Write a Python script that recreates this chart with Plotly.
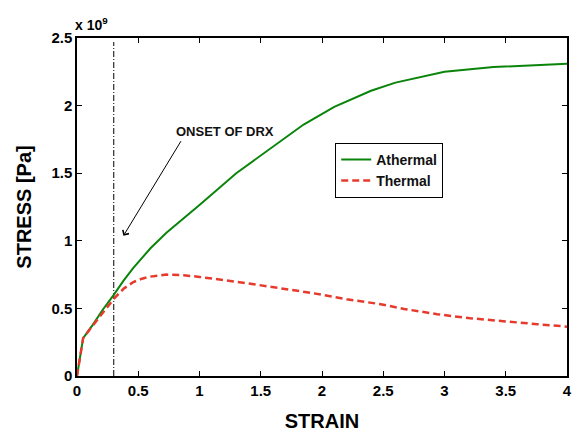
import plotly.graph_objects as go

# Data (stress in units of 1e9 Pa)
athermal_strain = [0, 0.05, 0.13, 0.21, 0.30, 0.38, 0.46, 0.60, 0.73, 0.87, 1.00, 1.30, 1.60, 1.85,
                   2.10, 2.40, 2.60, 3.00, 3.40, 3.70, 4.00]
athermal_stress = [0, 0.28, 0.38, 0.49, 0.60, 0.705, 0.80, 0.945, 1.06, 1.165, 1.265, 1.50, 1.70, 1.86,
                   1.99, 2.11, 2.17, 2.25, 2.285, 2.298, 2.31]

thermal_strain = [0, 0.05, 0.13, 0.21, 0.30, 0.38, 0.46, 0.53, 0.60, 0.73, 0.87, 1.00, 1.12, 1.39,
                  1.66, 1.93, 2.20, 2.48, 2.67, 2.94, 3.21, 3.49, 3.76, 4.00]
thermal_stress = [0, 0.28, 0.375, 0.47, 0.57, 0.645, 0.695, 0.72, 0.735, 0.75, 0.745, 0.733, 0.72, 0.686,
                  0.649, 0.612, 0.568, 0.531, 0.496, 0.457, 0.427, 0.402, 0.383, 0.365]

onset_strain = [0.3, 0.3]
onset_stress = [0, 2.47]

x_ticks = [0, 0.5, 1, 1.5, 2, 2.5, 3, 3.5, 4]
x_ticktext = ["0", "0.5", "1", "1.5", "2", "2.5", "3", "3.5", "4"]
y_ticks = [0, 0.5, 1, 1.5, 2, 2.5]
y_ticktext = ["0", "0.5", "1", "1.5", "2", "2.5"]

FONT = "Liberation Sans, Arial, Helvetica, sans-serif"

fig = go.Figure()
fig.add_trace(go.Scatter(x=onset_strain, y=onset_stress, mode="lines",
                         line=dict(color="black", width=1, dash="6px,2px,1px,2px"),
                         showlegend=False, hoverinfo="skip"))
fig.add_trace(go.Scatter(x=athermal_strain, y=athermal_stress, mode="lines", name="Athermal",
                         line=dict(color="#0a840a", width=2)))
fig.add_trace(go.Scatter(x=thermal_strain, y=thermal_stress, mode="lines", name="Thermal",
                         line=dict(color="#e63a2c", width=2.5, dash="7px,4px")))

axis_common = dict(showline=True, linecolor="black", linewidth=1.5, mirror="ticks",
                   ticks="inside", ticklen=5, tickcolor="black", tickwidth=1,
                   showgrid=False, zeroline=False, automargin=False,
                   tickfont=dict(family=FONT, size=15, color="black", weight="bold"))

fig.update_xaxes(range=[0, 4], tickvals=x_ticks, ticktext=x_ticktext,
                 title=dict(text="STRAIN", font=dict(family=FONT, size=20, color="black", weight="bold"),
                            standoff=16),
                 **axis_common)
fig.update_yaxes(range=[0, 2.5], tickvals=y_ticks, ticktext=y_ticktext,
                 title=dict(text="STRESS [Pa]", font=dict(family=FONT, size=20, color="black", weight="bold"),
                            standoff=14),
                 **axis_common)

fig.add_annotation(x=0.379, y=1.037, ax=0.856, ay=1.748, xref="x", yref="y", axref="x", ayref="y",
                   showarrow=True, arrowhead=4, arrowsize=1.4, arrowwidth=1, arrowcolor="black", text="")
fig.add_annotation(x=1.21, y=1.807, xref="x", yref="y", text="ONSET OF DRX", showarrow=False,
                   font=dict(family=FONT, size=13, color="#111111", weight="bold"))
fig.add_annotation(x=-0.008, y=1.04, xref="paper", yref="paper", xanchor="left", yanchor="middle",
                   text="x 10<sup>9</sup>", showarrow=False,
                   font=dict(family=FONT, size=14, color="black", weight="bold"))

fig.update_layout(
    width=577, height=433,
    margin=dict(l=77, r=10, t=38, b=57),
    plot_bgcolor="white", paper_bgcolor="white",
    font=dict(family=FONT, color="black"),
    legend=dict(x=0.527, y=0.69, xanchor="left", yanchor="top",
                bordercolor="black", borderwidth=1, bgcolor="white",
                font=dict(family=FONT, size=14, color="#111111", weight="bold"),
                tracegroupgap=0, itemwidth=30),
)

fig.write_html("out.html", config={"displayModeBar": False},
               post_script="document.body.style.margin='0';document.body.style.overflow='hidden';")
